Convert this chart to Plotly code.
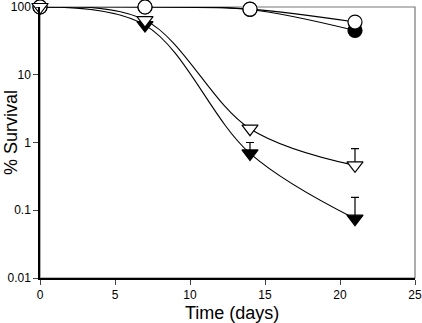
import plotly.graph_objects as go

days = [0, 7, 14, 21]
open_circle = [100, 100, 93, 60]
filled_circle = [100, 100, 92, 45]
open_tri = [100, 64, 1.6, 0.46]
open_tri_err = [0, 0, 0, 0.35]
filled_tri = [100, 54, 0.69, 0.075]
filled_tri_err = [0, 0, 0.31, 0.08]

x_ticks = [0, 5, 10, 15, 20, 25]
y_ticks = [0.01, 0.1, 1, 10, 100]
y_labels = ["0.01", "0.1", "1", "10", "100"]

fig = go.Figure()

def add(y, symbol, fill, err=None):
    fig.add_trace(go.Scatter(
        x=days, y=y, mode="lines+markers",
        line=dict(color="black", width=1.1, shape="spline", smoothing=1.0),
        marker=dict(symbol=symbol, size=14, color=fill, line=dict(color="black", width=1.2)),
        error_y=(dict(type="data", array=err, arrayminus=[0]*len(err), color="black",
                      thickness=1.2, width=4) if err else None),
        cliponaxis=False, showlegend=False, hoverinfo="skip"))

add(filled_circle, "circle", "black")
add(filled_tri, "triangle-down", "black", filled_tri_err)
add(open_circle, "circle", "white")
add(open_tri, "triangle-down", "white", open_tri_err)

fig.update_layout(
    width=422, height=323,
    margin=dict(l=40, r=7, t=7, b=45),
    paper_bgcolor="white", plot_bgcolor="white",
    font=dict(family="Liberation Sans, Arial, sans-serif", color="black", size=12),
)
fig.update_xaxes(range=[0, 25], tickvals=x_ticks, ticks="outside", ticklen=5,
                 showline=True, linecolor="black", linewidth=1.5, mirror=False,
                 showgrid=False, zeroline=False, automargin=False)
fig.update_yaxes(type="log", range=[-2, 2], tickvals=y_ticks, ticktext=y_labels,
                 ticks="outside", ticklen=5,
                 showline=True, linecolor="black", linewidth=1.5, mirror=False,
                 showgrid=False, zeroline=False, automargin=False)
# light border on top and right
fig.add_shape(type="rect", xref="paper", yref="paper", x0=0, y0=0, x1=1, y1=1,
              line=dict(color="#777777", width=1.2), layer="below")
fig.add_annotation(text="Time (days)", xref="paper", yref="paper", x=(232-40)/375, y=-(313-278)/271,
                   showarrow=False, font=dict(size=18), xanchor="center", yanchor="middle")
fig.add_annotation(text="% Survival", xref="paper", yref="paper", x=-(40-11)/375, y=(278-133)/271,
                   showarrow=False, font=dict(size=18), textangle=-90, xanchor="center", yanchor="middle")

fig.write_html("out.html", config={"displayModeBar": False},
               post_script="document.body.style.margin='0';document.body.style.overflow='hidden';")
